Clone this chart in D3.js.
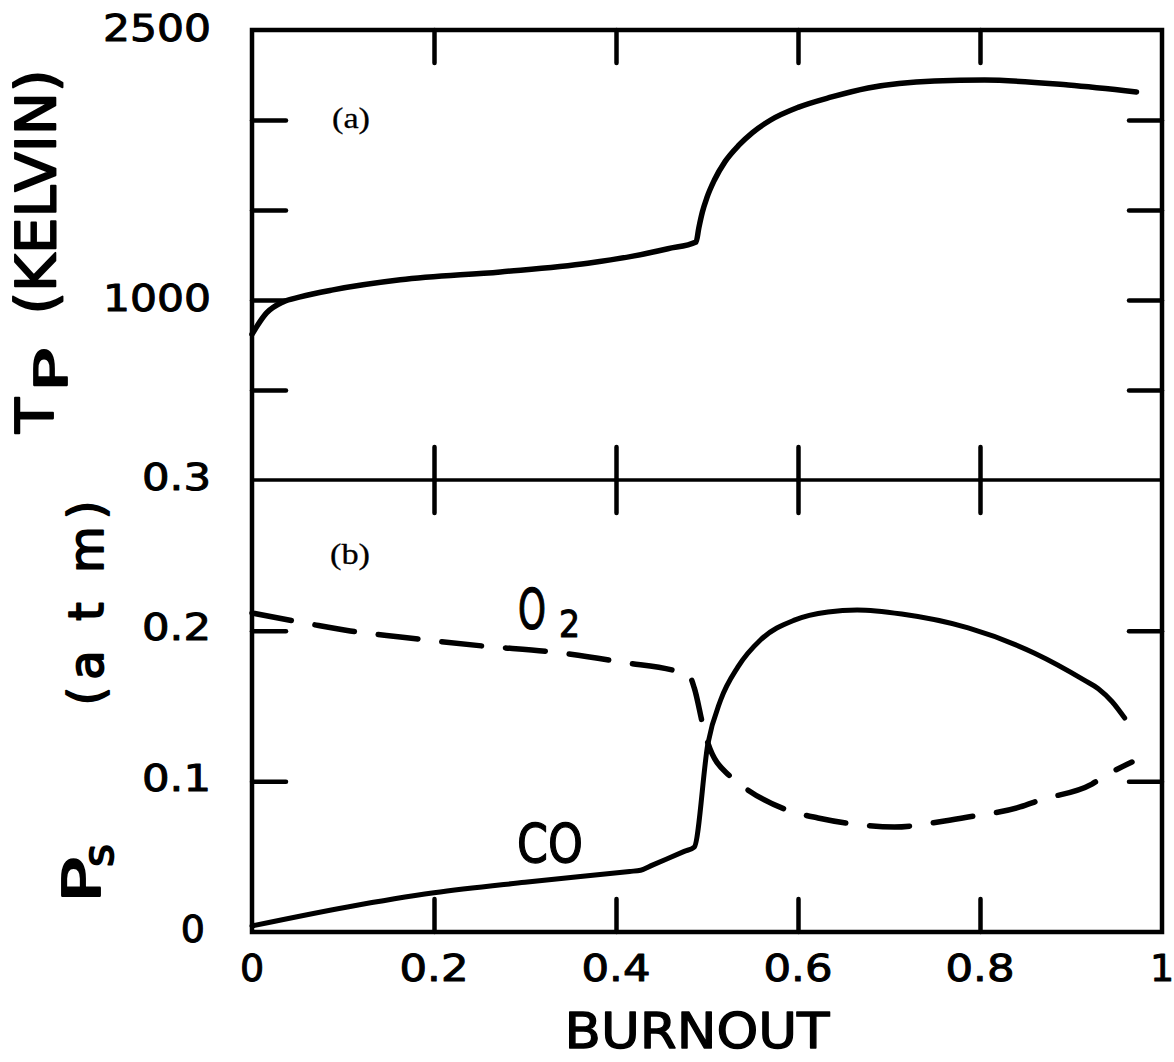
<!DOCTYPE html>
<html>
<head>
<meta charset="utf-8">
<script src="https://cdn.jsdelivr.net/npm/d3@7"></script>
<style>
  body { margin: 0; background: #fff; }
  svg { display: block; }
</style>
</head>
<body>
<div class="canvas"></div>
<script>
const width = 1174;
const height = 1062;

// (a) particle temperature against burnout
const tBurnout = [0, 0.016, 0.034, 0.053, 0.089, 0.163, 0.273, 0.369, 0.42, 0.457, 0.488, 0.491, 0.495, 0.5, 0.508, 0.52, 0.535, 0.55, 0.57, 0.6, 0.637, 0.677, 0.75, 0.805, 0.897, 0.972];
const tKelvin = [810, 928, 989, 1017, 1056, 1112, 1156, 1204, 1245, 1285, 1322, 1400, 1490, 1570, 1665, 1770, 1860, 1930, 2000, 2070, 2128, 2178, 2217, 2222, 2194, 2156];

// (b) surface partial pressures
const coBurnout = [0, 0.105, 0.2, 0.3, 0.415, 0.427, 0.44, 0.475, 0.486, 0.501, 0.515, 0.534, 0.559, 0.596, 0.633, 0.665, 0.714, 0.787, 0.86, 0.915, 0.93, 0.945, 0.959];
const coAtm = [0.004, 0.0166, 0.026, 0.033, 0.0402, 0.041, 0.0444, 0.0535, 0.0564, 0.125, 0.154, 0.176, 0.194, 0.207, 0.2124, 0.2137, 0.211, 0.2018, 0.185, 0.167, 0.1615, 0.153, 0.142];

const o2Burnout = [0, 0.064, 0.108, 0.163, 0.254, 0.331, 0.405, 0.48, 0.486, 0.496, 0.501, 0.526, 0.545, 0.595, 0.622, 0.67, 0.706, 0.761, 0.787, 0.844, 0.866, 0.923, 0.937, 0.967];
const o2Atm = [0.2117, 0.2044, 0.1998, 0.1958, 0.1898, 0.1858, 0.1792, 0.1706, 0.162, 0.136, 0.1254, 0.1029, 0.0942, 0.0796, 0.0757, 0.071, 0.0697, 0.0737, 0.0763, 0.083, 0.0876, 0.0982, 0.1035, 0.1128];

// ticks and labels
const xTickValues = [0.2, 0.4, 0.6, 0.8];
const xLabelValues = [0, 0.2, 0.4, 0.6, 0.8, 1];
const xLabelText = ['0', '0.2', '0.4', '0.6', '0.8', '1'];
const tTickValues = [500, 1000, 1500, 2000];
const tLabelValues = [2500, 1000];
const pTickValues = [0.1, 0.2];
const pLabelValues = [0.3, 0.2, 0.1, 0];

const svg = d3.select('.canvas')
  .append('svg')
  .attr('width', width)
  .attr('height', height);

svg.append('rect')
  .attr('width', width)
  .attr('height', height)
  .attr('fill', '#fff');

// scales
const x = d3.scaleLinear().domain([0, 1]).range([252, 1162]);
const yT = d3.scaleLinear().domain([0, 2500]).range([480, 30]);
const yP = d3.scaleLinear().domain([0, 0.3]).range([932, 480]);

const sans = 'DejaVu Sans, sans-serif';

// tick marks only, labels are drawn separately
function ticks(axis, tx, ty) {
  svg.append('g')
    .attr('transform', `translate(${tx}, ${ty})`)
    .call(axis.tickFormat(''))
    .call(g => g.select('.domain').remove())
    .call(g => g.selectAll('.tick line')
      .attr('stroke', '#000')
      .attr('stroke-width', 4.5)
      .attr('stroke-linecap', 'round'));
}

ticks(d3.axisTop(x).tickValues(xTickValues).tickSize(-33), 0, yT(2500));
ticks(d3.axisTop(x).tickValues(xTickValues).tickSize(33), 0, yT(0));
ticks(d3.axisBottom(x).tickValues(xTickValues).tickSize(33), 0, yT(0));
ticks(d3.axisBottom(x).tickValues(xTickValues).tickSize(-33), 0, yP(0));
ticks(d3.axisLeft(yT).tickValues(tTickValues).tickSize(-34), x(0), 0);
ticks(d3.axisRight(yT).tickValues(tTickValues).tickSize(-33), x(1), 0);
ticks(d3.axisLeft(yP).tickValues(pTickValues).tickSize(-34), x(0), 0);
ticks(d3.axisRight(yP).tickValues(pTickValues).tickSize(-33), x(1), 0);

// frame and divider
svg.append('rect')
  .attr('x', x(0))
  .attr('y', yT(2500))
  .attr('width', x(1) - x(0))
  .attr('height', yP(0) - yT(2500))
  .attr('fill', 'none')
  .attr('stroke', '#000')
  .attr('stroke-width', 4.5);

svg.append('line')
  .attr('x1', x(0))
  .attr('x2', x(1))
  .attr('y1', yT(0))
  .attr('y2', yT(0))
  .attr('stroke', '#000')
  .attr('stroke-width', 3.5);

// curves
function curve(xs, ys, yScale) {
  return d3.line()
    .x((d, i) => x(xs[i]))
    .y((d, i) => yScale(ys[i]))
    .curve(d3.curveMonotoneX)(xs);
}

svg.append('path')
  .attr('d', curve(tBurnout, tKelvin, yT))
  .attr('fill', 'none')
  .attr('stroke', '#000')
  .attr('stroke-width', 5.5)
  .attr('stroke-linecap', 'round')
  .attr('stroke-linejoin', 'round');

svg.append('path')
  .attr('d', curve(coBurnout, coAtm, yP))
  .attr('fill', 'none')
  .attr('stroke', '#000')
  .attr('stroke-width', 5)
  .attr('stroke-linecap', 'round')
  .attr('stroke-linejoin', 'round');

svg.append('path')
  .attr('d', curve(o2Burnout, o2Atm, yP))
  .attr('fill', 'none')
  .attr('stroke', '#000')
  .attr('stroke-width', 5.5)
  .attr('stroke-dasharray', '40 24')
  .attr('stroke-linecap', 'round');

// text helper
function label(txt, opts) {
  const t = svg.append('text')
    .text(txt)
    .attr('font-family', opts.family || sans)
    .attr('font-size', opts.size)
    .attr('text-anchor', opts.anchor || 'start')
    .attr('fill', '#000')
    .attr('stroke', '#000')
    .attr('stroke-width', opts.weight === undefined ? 1.0 : opts.weight)
    .attr('stroke-linejoin', 'round');
  if (opts.rotate) {
    t.attr('transform', `translate(${opts.x}, ${opts.y}) rotate(-90)`);
  } else {
    t.attr('x', opts.x).attr('y', opts.y);
  }
  if (opts.dy) t.attr('dy', opts.dy);
  if (opts.length) {
    t.attr('textLength', opts.length)
      .attr('lengthAdjust', opts.adjust || 'spacingAndGlyphs');
  }
  return t;
}

function digitWidth(s) {
  if (s.length < 2) return null;
  return s.split('').reduce((w, c) => w + (c === '.' ? 15 : 27), 0);
}

// y tick labels
tLabelValues.forEach(v => {
  label(String(v), { x: 211, y: yT(v) - 3, size: 38, anchor: 'end', dy: '0.36em', length: digitWidth(String(v)) });
});
pLabelValues.forEach(v => {
  const s = String(v);
  label(s, { x: s.length > 1 ? 211 : 205, y: yP(v) - 4, size: 38, anchor: 'end', dy: '0.36em', length: digitWidth(s) });
});

// x tick labels
xLabelValues.forEach((v, i) => {
  label(xLabelText[i], { x: x(v), y: yP(0) + 35, size: 38, anchor: 'middle', dy: '0.36em', length: digitWidth(xLabelText[i]) });
});

label('BURNOUT', { x: 697, y: 1048, size: 49, anchor: 'middle', length: 265, weight: 1.3 });

// y axis titles
label('T', { x: 53, y: 433, size: 52, rotate: true, length: 35, weight: 1.9 });
label('P', { x: 67, y: 392, size: 45, rotate: true, length: 44, weight: 1.8 });
label('(KELVIN)', { x: 55, y: 192, size: 55, rotate: true, anchor: 'middle', length: 245, weight: 1.9 });

label('P', { x: 100, y: 903, size: 51, rotate: true, length: 46, weight: 1.9 });
label('s', { x: 113, y: 867, size: 42, rotate: true, length: 23, weight: 1.6 });
label('(a t m)', { x: 103, y: 603, size: 48, rotate: true, anchor: 'middle', length: 205, adjust: 'spacing', weight: 1.8 });

// panel tags
label('(a)', { x: 332, y: 128, size: 30, family: 'Liberation Serif, serif', length: 38, weight: 0.3 });
label('(b)', { x: 330, y: 564, size: 30, family: 'Liberation Serif, serif', length: 40, weight: 0.3 });

// series names
label('O', { x: 518, y: 628, size: 55, length: 28, weight: 1.3 });
label('2', { x: 559, y: 637, size: 37, length: 21, weight: 1.1 });
label('CO', { x: 517, y: 862, size: 53, length: 66, weight: 1.3 });
</script>
</body>
</html>
